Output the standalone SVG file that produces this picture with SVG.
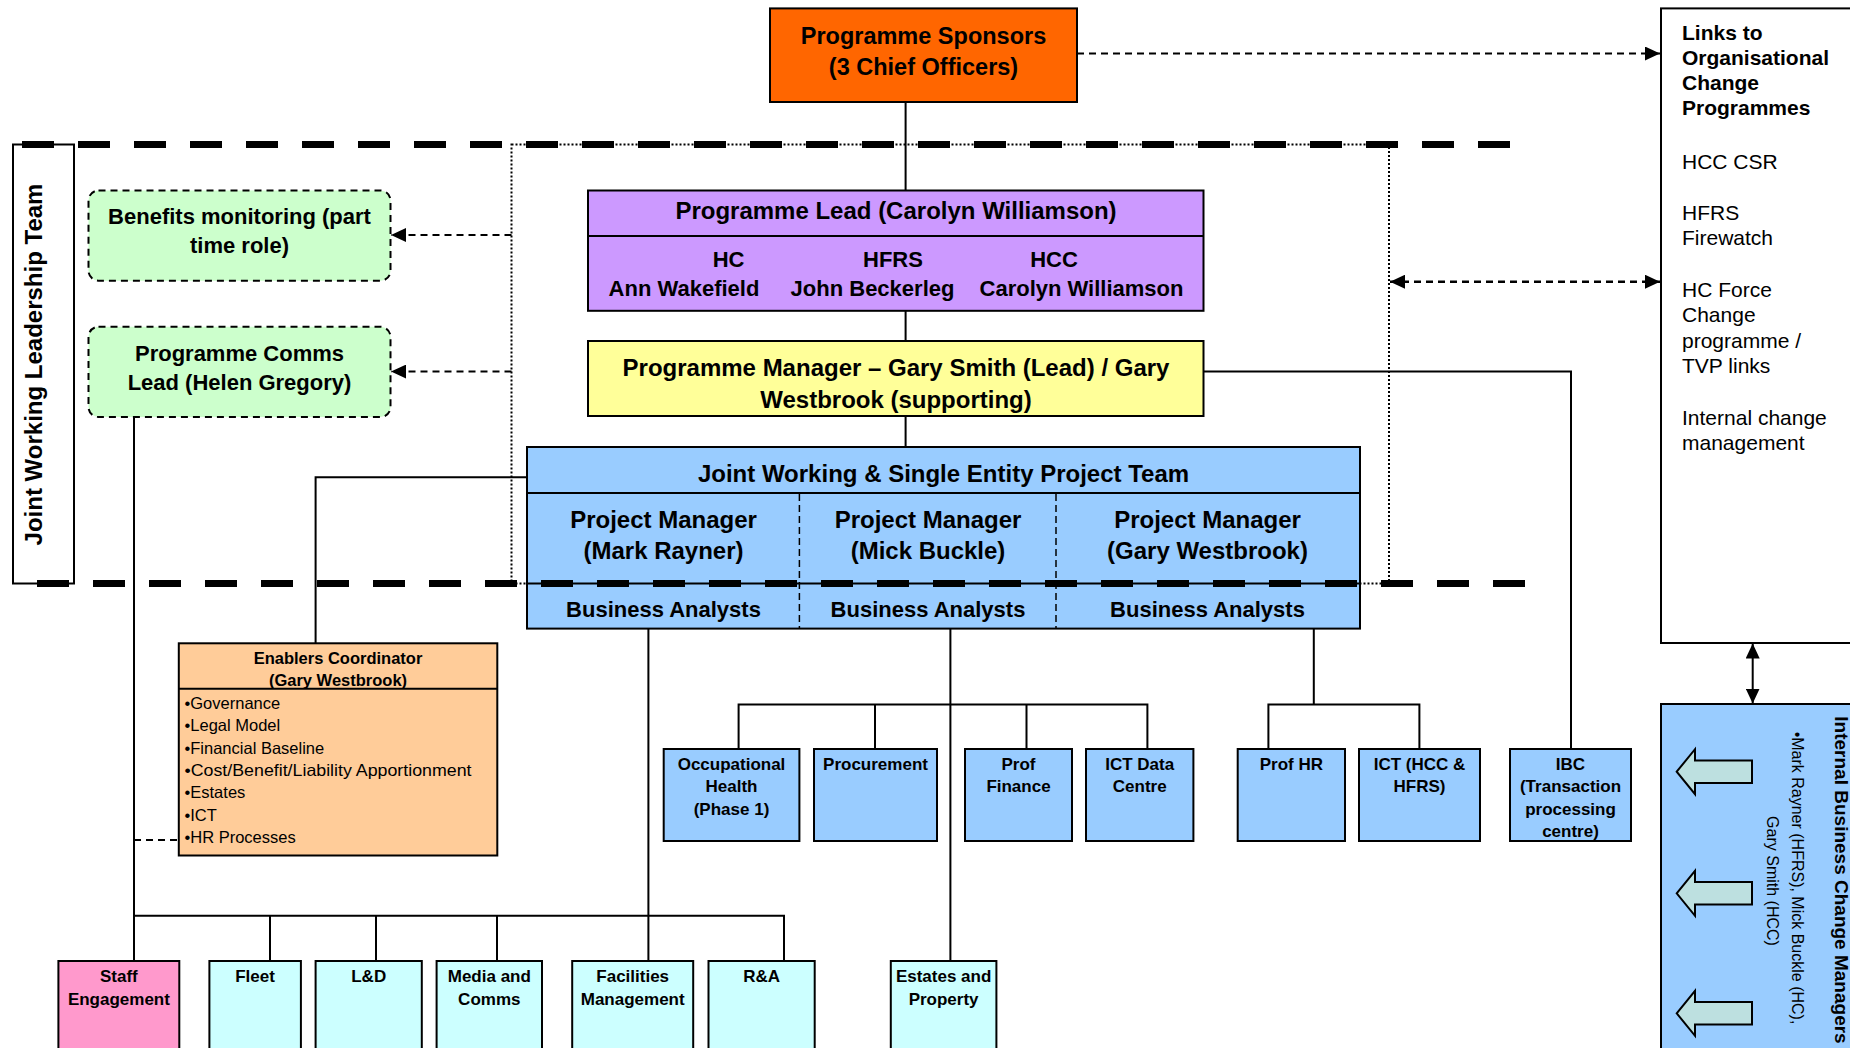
<svg xmlns="http://www.w3.org/2000/svg" width="1850" height="1048" viewBox="0 0 1850 1048">
<style>
.t{font-family:'Liberation Sans',Arial,sans-serif;fill:#000}
.b{font-weight:bold}
.c{text-anchor:middle}
.bx{stroke:#000;stroke-width:2}
.ln{stroke:#000;stroke-width:2;fill:none}
.dsh{stroke:#000;stroke-width:2;stroke-dasharray:7 5;fill:none}
.dsh2{stroke:#000;stroke-width:2.5;stroke-dasharray:7 5;fill:none}
.gbox{stroke:#000;stroke-width:2;stroke-dasharray:7 5;fill:#ccffcc}
.dot{stroke:#000;stroke-width:2;stroke-dasharray:2 2;fill:none}
.thick{stroke:#000;stroke-width:7;stroke-dasharray:32 24;fill:none}
.cd{stroke:#000;stroke-width:1.5;stroke-dasharray:7 4;fill:none}
.barrow{fill:#bde0e0;stroke:#000;stroke-width:2}
</style>
<defs>
<marker id="ah" viewBox="0 0 15 14" refX="15" refY="7" markerWidth="15" markerHeight="14" orient="auto-start-reverse" markerUnits="userSpaceOnUse">
<path d="M0,0 L15,7 L0,14 z" fill="#000"/>
</marker>
</defs>
<rect width="1850" height="1048" fill="#fff"/>

<g id="boundary-dotted">
<rect x="511.5" y="144.5" width="877.5" height="439" class="dot"/>
</g>

<g id="connectors">
<path class="ln" d="M905.6,102 V190.5 M905.6,311 V341 M905.6,416 V447"/>
<path class="ln" d="M527,477.3 H315.6 V643.3"/>
<path class="ln" d="M1203.5,371.6 H1571 V749"/>
<path class="ln" d="M134,417 V961 M134,915.7 H784 V961 M270,915.7 V961 M376,915.7 V961 M497,915.7 V961"/>
<path class="ln" d="M648.4,628.6 V961 M950.4,628.6 V961"/>
<path class="ln" d="M738.6,749 V704.5 H1147.4 V749 M875,704.5 V749 M1026.5,704.5 V749"/>
<path class="ln" d="M1313.8,628.6 V704.5 M1268.4,749 V704.5 H1419.4 V749"/>
<path class="dsh" d="M134,840 H178.8"/>
<path class="dsh" d="M511.5,235 H391" marker-end="url(#ah)"/>
<path class="dsh" d="M511.5,371.6 H391" marker-end="url(#ah)"/>
<path class="dsh" d="M1077,53.5 H1660" marker-end="url(#ah)"/>
<path class="dsh2" d="M1390,281.7 H1660" marker-start="url(#ah)" marker-end="url(#ah)"/>
<path class="ln" d="M1752.7,643.5 V703.5" marker-start="url(#ah)" marker-end="url(#ah)"/>
</g>

<g id="jwlt">
<rect x="13" y="144.5" width="61" height="439" fill="#fff" class="bx"/>
<text class="t b c" font-size="24" transform="translate(41.5,364.5) rotate(-90)">Joint Working Leadership Team</text>
</g>

<g id="sponsors">
<rect x="770" y="8.4" width="307" height="93.6" fill="#ff6600" class="bx"/>
<text class="t b c" font-size="23.5" x="923.5" y="43.5">Programme Sponsors</text>
<text class="t b c" font-size="23.5" x="923.5" y="75">(3 Chief Officers)</text>
</g>

<g id="links">
<rect x="1661" y="8.4" width="200" height="634.6" fill="#fff" class="bx"/>
<g class="t" font-size="21">
<text class="b" x="1682" y="39.5">Links to</text>
<text class="b" x="1682" y="64.8">Organisational</text>
<text class="b" x="1682" y="90.1">Change</text>
<text class="b" x="1682" y="115.4">Programmes</text>
<text x="1682" y="169">HCC CSR</text>
<text x="1682" y="219.8">HFRS</text>
<text x="1682" y="245.1">Firewatch</text>
<text x="1682" y="297">HC Force</text>
<text x="1682" y="322.3">Change</text>
<text x="1682" y="347.6">programme /</text>
<text x="1682" y="372.9">TVP links</text>
<text x="1682" y="424.5">Internal change</text>
<text x="1682" y="449.8">management</text>
</g>
</g>

<g id="benefits">
<rect x="88.5" y="190.5" width="302" height="90.2" rx="10" class="gbox"/>
<text class="t b c" font-size="22" x="239.5" y="224">Benefits monitoring (part</text>
<text class="t b c" font-size="22" x="239.5" y="252.5">time role)</text>
</g>

<g id="comms">
<rect x="88.5" y="326.8" width="302" height="90.2" rx="10" class="gbox"/>
<text class="t b c" font-size="22" x="239.5" y="360.5">Programme Comms</text>
<text class="t b c" font-size="22" x="239.5" y="389.5">Lead (Helen Gregory)</text>
</g>

<g id="programme-lead">
<rect x="588" y="190.5" width="615.5" height="120.3" fill="#cc99ff" class="bx"/>
<line x1="588" y1="236" x2="1203.5" y2="236" class="ln"/>
<text class="t b c" font-size="24" x="896" y="218.8">Programme Lead (Carolyn Williamson)</text>
<text class="t b c" font-size="22" x="728.6" y="266.8">HC</text>
<text class="t b c" font-size="22" x="893" y="266.8">HFRS</text>
<text class="t b c" font-size="22" x="1054" y="266.8">HCC</text>
<text class="t b c" font-size="22" x="684" y="296">Ann Wakefield</text>
<text class="t b c" font-size="22" x="872.5" y="296">John Beckerleg</text>
<text class="t b c" font-size="22" x="1081.5" y="296">Carolyn Williamson</text>
</g>

<g id="programme-manager">
<rect x="588" y="341" width="615.5" height="75" fill="#ffff99" class="bx"/>
<text class="t b c" font-size="24" x="896" y="375.8">Programme Manager – Gary Smith (Lead) / Gary</text>
<text class="t b c" font-size="24" x="896" y="407.6">Westbrook (supporting)</text>
</g>

<g id="project-team">
<rect x="527" y="447" width="833" height="181.6" fill="#99ccff" class="bx"/>
<line x1="527" y1="493" x2="1360" y2="493" class="ln"/>
<line x1="527" y1="583.5" x2="1360" y2="583.5" class="ln"/>
<line x1="799.4" y1="494" x2="799.4" y2="628" class="cd"/>
<line x1="1056" y1="494" x2="1056" y2="628" class="cd"/>
<text class="t b c" font-size="24" x="943.5" y="481.5">Joint Working &amp; Single Entity Project Team</text>
<text class="t b c" font-size="24" x="663.5" y="528">Project Manager</text>
<text class="t b c" font-size="24" x="663.5" y="559">(Mark Rayner)</text>
<text class="t b c" font-size="24" x="928" y="528">Project Manager</text>
<text class="t b c" font-size="24" x="928" y="559">(Mick Buckle)</text>
<text class="t b c" font-size="24" x="1207.5" y="528">Project Manager</text>
<text class="t b c" font-size="24" x="1207.5" y="559">(Gary Westbrook)</text>
<text class="t b c" font-size="22" x="663.5" y="617">Business Analysts</text>
<text class="t b c" font-size="22" x="928" y="617">Business Analysts</text>
<text class="t b c" font-size="22" x="1207.5" y="617">Business Analysts</text>
</g>

<g id="enablers">
<rect x="178.8" y="643.3" width="318.5" height="212.2" fill="#ffcc99" class="bx"/>
<line x1="178.8" y1="688.8" x2="497.3" y2="688.8" class="ln"/>
<text class="t b c" font-size="16.5" x="338" y="664">Enablers Coordinator</text>
<text class="t b c" font-size="16.5" x="338" y="686">(Gary Westbrook)</text>
<g class="t" font-size="16.5">
<text x="184.5" y="709">•Governance</text>
<text x="184.5" y="731.3">•Legal Model</text>
<text x="184.5" y="753.6">•Financial Baseline</text>
<text x="184.5" y="775.9" textLength="287" lengthAdjust="spacingAndGlyphs">•Cost/Benefit/Liability Apportionment</text>
<text x="184.5" y="798.2">•Estates</text>
<text x="184.5" y="820.5">•ICT</text>
<text x="184.5" y="842.8">•HR Processes</text>
</g>
</g>

<g id="occupational-health">
<rect x="663.7" y="749" width="135.7" height="92" fill="#99ccff" class="bx"/>
<text class="t b c" font-size="17" x="731.5" y="769.5">Occupational</text>
<text class="t b c" font-size="17" x="731.5" y="792">Health</text>
<text class="t b c" font-size="17" x="731.5" y="814.5">(Phase 1)</text>
</g>
<g id="procurement">
<rect x="814" y="749" width="123" height="92" fill="#99ccff" class="bx"/>
<text class="t b c" font-size="17" x="875.5" y="769.5">Procurement</text>
</g>
<g id="prof-finance">
<rect x="965" y="749" width="107" height="92" fill="#99ccff" class="bx"/>
<text class="t b c" font-size="17" x="1018.5" y="769.5">Prof</text>
<text class="t b c" font-size="17" x="1018.5" y="792">Finance</text>
</g>
<g id="ict-data-centre">
<rect x="1086" y="749" width="107.4" height="92" fill="#99ccff" class="bx"/>
<text class="t b c" font-size="17" x="1139.7" y="769.5">ICT Data</text>
<text class="t b c" font-size="17" x="1139.7" y="792">Centre</text>
</g>
<g id="prof-hr">
<rect x="1237.7" y="749" width="107.3" height="92" fill="#99ccff" class="bx"/>
<text class="t b c" font-size="17" x="1291.4" y="769.5">Prof HR</text>
</g>
<g id="ict-hcc-hfrs">
<rect x="1359" y="749" width="121" height="92" fill="#99ccff" class="bx"/>
<text class="t b c" font-size="17" x="1419.5" y="769.5">ICT (HCC &amp;</text>
<text class="t b c" font-size="17" x="1419.5" y="792">HFRS)</text>
</g>
<g id="ibc">
<rect x="1510" y="749" width="121" height="92" fill="#99ccff" class="bx"/>
<text class="t b c" font-size="17" x="1570.5" y="769.5">IBC</text>
<text class="t b c" font-size="17" x="1570.5" y="792">(Transaction</text>
<text class="t b c" font-size="17" x="1570.5" y="814.5">processing</text>
<text class="t b c" font-size="17" x="1570.5" y="837">centre)</text>
</g>

<g id="staff-engagement">
<rect x="58.4" y="961" width="120.9" height="100" fill="#ff99cc" class="bx"/>
<text class="t b c" font-size="17" x="118.9" y="981.5">Staff</text>
<text class="t b c" font-size="17" x="118.9" y="1004.5">Engagement</text>
</g>
<g id="fleet">
<rect x="209.4" y="961" width="91.5" height="100" fill="#ccffff" class="bx"/>
<text class="t b c" font-size="17" x="255" y="981.5">Fleet</text>
</g>
<g id="l-and-d">
<rect x="315.6" y="961" width="106.2" height="100" fill="#ccffff" class="bx"/>
<text class="t b c" font-size="17" x="368.7" y="981.5">L&amp;D</text>
</g>
<g id="media-comms">
<rect x="436.6" y="961" width="105.4" height="100" fill="#ccffff" class="bx"/>
<text class="t b c" font-size="17" x="489.3" y="981.5">Media and</text>
<text class="t b c" font-size="17" x="489.3" y="1004.5">Comms</text>
</g>
<g id="facilities">
<rect x="572.2" y="961" width="121" height="100" fill="#ccffff" class="bx"/>
<text class="t b c" font-size="17" x="632.7" y="981.5">Facilities</text>
<text class="t b c" font-size="17" x="632.7" y="1004.5">Management</text>
</g>
<g id="r-and-a">
<rect x="708.5" y="961" width="106.2" height="100" fill="#ccffff" class="bx"/>
<text class="t b c" font-size="17" x="761.6" y="981.5">R&amp;A</text>
</g>
<g id="estates-property">
<rect x="890.8" y="961" width="105.6" height="100" fill="#ccffff" class="bx"/>
<text class="t b c" font-size="17" x="943.6" y="981.5">Estates and</text>
<text class="t b c" font-size="17" x="943.6" y="1004.5">Property</text>
</g>

<g id="internal-bcm">
<rect x="1661" y="704" width="200" height="360" fill="#99ccff" class="bx"/>
<polygon class="barrow" points="1676.7,771.7 1695,749.2 1695,760.4 1752,760.4 1752,783 1695,783 1695,794.2"/>
<polygon class="barrow" points="1676.7,893.3 1695,870.8 1695,882 1752,882 1752,904.6 1695,904.6 1695,915.8"/>
<polygon class="barrow" points="1676.7,1013.3 1695,990.8 1695,1002 1752,1002 1752,1024.6 1695,1024.6 1695,1035.8"/>
<text class="t b c" font-size="19" transform="translate(1835,880) rotate(90)">Internal Business Change Managers</text>
<text class="t c" font-size="16" transform="translate(1792,878) rotate(90)">•Mark Rayner (HFRS), Mick Buckle (HC),</text>
<text class="t c" font-size="16" transform="translate(1767,881) rotate(90)">Gary Smith (HCC)</text>
</g>

<g id="boundary-dashed">
<line x1="22" y1="144.5" x2="1510" y2="144.5" class="thick"/>
<line x1="37" y1="583.5" x2="1526" y2="583.5" class="thick"/>
</g>
</svg>
